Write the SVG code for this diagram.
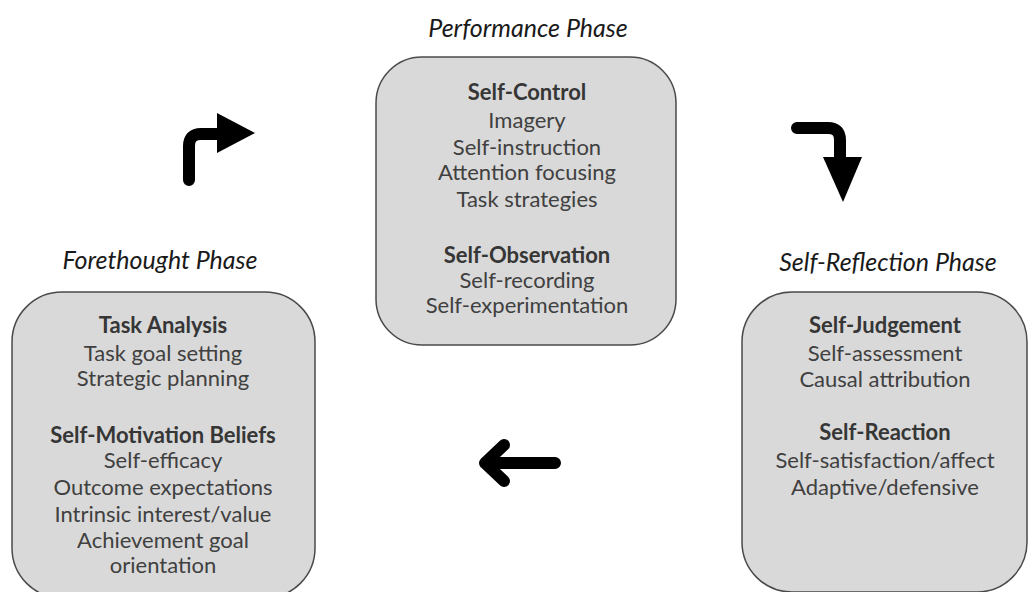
<svg xmlns="http://www.w3.org/2000/svg" width="1029" height="592" viewBox="0 0 1029 592">
<style>
.box{fill:#d9d9d9;stroke:#4a4a4a;stroke-width:1.5}
.t{font-family:Lato,"Open Sans",sans-serif;font-size:22px;fill:#404040;text-anchor:middle}
.b{font-weight:bold;fill:#363636}
.title{font-family:Lato,"Open Sans",sans-serif;font-size:25px;font-style:italic;fill:#1a1a1a;text-anchor:middle}
.arr{fill:none;stroke:#000;stroke-width:12;stroke-linecap:round;stroke-linejoin:round}
</style>
<rect width="1029" height="592" fill="#fff"/>
<g id="performance">
<text class="title" x="528" y="37">Performance Phase</text>
<rect class="box" x="376" y="57" width="300" height="288" rx="46"/>
<text class="t b" x="527" y="100">Self-Control</text>
<text class="t" x="527" y="128">Imagery</text>
<text class="t" x="527" y="155">Self-instruction</text>
<text class="t" x="527" y="180">Attention focusing</text>
<text class="t" x="527" y="207">Task strategies</text>
<text class="t b" x="527" y="263">Self-Observation</text>
<text class="t" x="527" y="288">Self-recording</text>
<text class="t" x="527" y="313">Self-experimentation</text>
</g>
<g id="forethought">
<text class="title" x="160" y="269">Forethought Phase</text>
<rect class="box" x="12" y="292" width="303" height="306" rx="50"/>
<text class="t b" x="163" y="333">Task Analysis</text>
<text class="t" x="163" y="361">Task goal setting</text>
<text class="t" x="163" y="386">Strategic planning</text>
<text class="t b" x="163" y="443">Self-Motivation Beliefs</text>
<text class="t" x="163" y="468">Self-efficacy</text>
<text class="t" x="163" y="495">Outcome expectations</text>
<text class="t" x="163" y="522">Intrinsic interest/value</text>
<text class="t" x="163" y="548">Achievement goal</text>
<text class="t" x="163" y="573">orientation</text>
</g>
<g id="selfreflection">
<text class="title" x="888" y="271">Self-Reflection Phase</text>
<rect class="box" x="742" y="292" width="285" height="300" rx="50"/>
<text class="t b" x="885" y="333">Self-Judgement</text>
<text class="t" x="885" y="361">Self-assessment</text>
<text class="t" x="885" y="387">Causal attribution</text>
<text class="t b" x="885" y="440">Self-Reaction</text>
<text class="t" x="885" y="468">Self-satisfaction/affect</text>
<text class="t" x="885" y="495">Adaptive/defensive</text>
</g>
<g id="connectors">
<path class="arr" d="M189,180 L189,146 Q189,134 201,134 L220,134"/>
<polygon points="217,113 255,133 217,153" fill="#000"/>
<path class="arr" d="M797,128 L828,128 Q840,128 840,140 L840,160"/>
<polygon points="823,157 862,157 843,202" fill="#000"/>
<path class="arr" d="M504,445 L485,463 L504,481 M487,463 L555,463"/>
</g>
</svg>
